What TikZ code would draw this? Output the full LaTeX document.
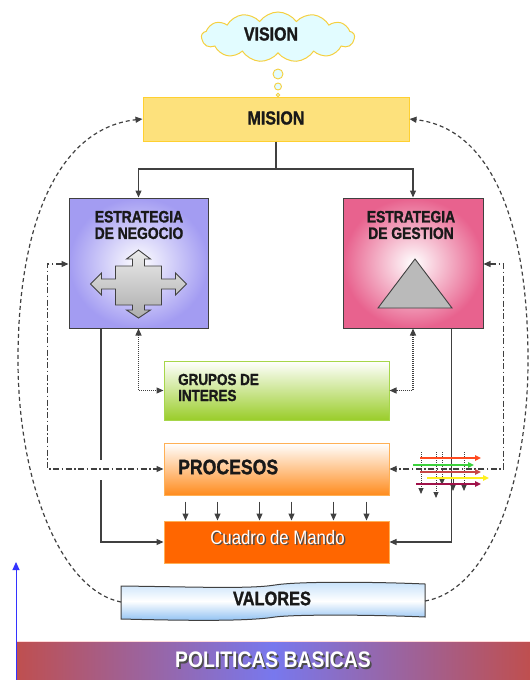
\documentclass[tikz,border=0pt]{standalone}
\usepackage{fontspec}
\newfontfamily\condfont[FakeStretch=0.86]{Liberation Sans}
\newfontfamily\heavyfont[FakeStretch=0.84,FakeBold=1.2]{Liberation Sans}
\usetikzlibrary{arrows.meta,shapes.symbols}

\definecolor{linegray}{HTML}{404040}
\definecolor{cloudfill}{HTML}{E2FCFF}
\definecolor{cloudedge}{HTML}{F5D040}
\definecolor{misionfill}{HTML}{FDE17C}
\definecolor{misionedge}{HTML}{FFD030}
\definecolor{negedge}{HTML}{A39CF2}
\definecolor{gesedge}{HTML}{E8628E}
\definecolor{grupgreen}{HTML}{9ACD2A}
\definecolor{grupedge}{HTML}{A6D64A}
\definecolor{procorange}{HTML}{FF8C1E}
\definecolor{procedge}{HTML}{FFB055}
\definecolor{cuadrofill}{HTML}{FF6600}
\definecolor{valtop}{HTML}{C4E0FA}
\definecolor{valbot}{HTML}{8EC0F2}
\definecolor{polred}{HTML}{BF4F4F}
\definecolor{polblue}{HTML}{7878EE}
\definecolor{arrred}{HTML}{FF4A20}
\definecolor{arrgreen}{HTML}{3CD23C}
\definecolor{arrbrown}{HTML}{C84646}
\definecolor{arryellow}{HTML}{FFF020}
\definecolor{arrmaroon}{HTML}{A0124A}

% white text with a dark drop shadow, set as one box
\newcommand{\shadowtext}[1]{\makebox[0pt][l]{\hspace{1.6pt}\raisebox{-1.6pt}{\color{black!70}#1}}{\color{white}#1}}

\begin{document}
\begin{tikzpicture}[x=1pt,y=-1pt,
  >={Triangle[length=7pt,width=6pt]},
  conn/.style={draw=linegray,line width=1.2pt},
  dotconn/.style={draw=linegray,line width=1.2pt,dash pattern=on 1pt off 1pt},
  dashdotconn/.style={draw=linegray,line width=1.2pt,dash pattern=on 6pt off 2.5pt on 1.5pt off 2.5pt},
  dashconn/.style={draw=linegray,line width=1.2pt,dash pattern=on 4pt off 3pt},
  box/.style={rectangle,inner sep=0pt,line width=1pt},
  lbl/.style={font=\heavyfont\bfseries\fontsize{#1}{#1}\selectfont,text=black!90,inner sep=0pt},
  lbl/.default=19,
  wlbl/.style={font=\condfont\fontsize{#1}{#1}\selectfont,inner sep=0pt},
]
\useasboundingbox (0,0) rectangle (530,680);

% ---- vision cloud and thought bubbles
\node[cloud,cloud puffs=13,cloud puff arc=110,aspect=3,draw=cloudedge,line width=1pt,
      fill=cloudfill,minimum width=153pt,minimum height=50pt,inner sep=0pt] (vision) at (278,37) {};
\node[lbl] (visiontxt) at (271,34) {VISION};
\node[circle,draw=cloudedge,fill=cloudfill,line width=0.9pt,minimum size=10pt,inner sep=0pt] (b1) at (278,74) {};
\node[circle,draw=cloudedge,fill=cloudfill,line width=0.9pt,minimum size=7pt,inner sep=0pt] (b2) at (278,86.5) {};
\node[circle,draw=cloudedge,fill=cloudfill,line width=0.8pt,minimum size=3.5pt,inner sep=0pt] (b3) at (278,95) {};

% ---- mision
\node[box,draw=misionedge,fill=misionfill,minimum width=266pt,minimum height=44pt] (mision) at (276,119) {};
\node[lbl] (misiontxt) at (276,118) {MISION};

% ---- estrategia boxes
\node[box,draw=linegray,inner color=white,outer color=negedge,minimum width=139pt,minimum height=130pt] (negocio) at (138.5,263) {};
\node[lbl=16.5,align=center] (negociotxt) at (139,225) {\fontsize{16.5}{22}\selectfont ESTRATEGIA\\DE NEGOCIO};
\node[box,draw=linegray,inner color=white,outer color=gesedge,minimum width=140pt,minimum height=130pt] (gestion) at (413,263) {};
\node[lbl=16.5,align=center] (gestiontxt) at (411,225) {\fontsize{16.5}{22}\selectfont ESTRATEGIA\\DE GESTION};

% four-way arrow symbol
\begin{scope}[shift={(138.5,284)}]
\draw[draw=linegray,line width=0.9pt,top color=black!8,bottom color=black!32]
  (0,-34) -- (12,-25) -- (6,-25) -- (6,-18) -- (23,-18) -- (23,-5) -- (37,-5) -- (37,-11) -- (48,0)
  -- (37,11) -- (37,5) -- (23,5) -- (23,21) -- (6,21) -- (6,26) -- (12,26) -- (0,34)
  -- (-12,26) -- (-6,26) -- (-6,21) -- (-23,21) -- (-23,5) -- (-37,5) -- (-37,11) -- (-48,0)
  -- (-37,-11) -- (-37,-5) -- (-23,-5) -- (-23,-18) -- (-6,-18) -- (-6,-25) -- (-12,-25) -- cycle;
\end{scope}
% triangle symbol
\draw[draw=linegray,line width=0.9pt,fill=black!27] (415,259) -- (452,308) -- (378,308) -- cycle;

% ---- grupos, procesos, cuadro
\node[box,draw=grupedge,top color=white,bottom color=grupgreen,minimum width=225pt,minimum height=59pt] (grupos) at (276.5,390.5) {};
\node[lbl=16,align=left,anchor=west] (grupostxt) at (178,387.5) {\fontsize{16}{19}\selectfont GRUPOS DE\\INTERES};
\node[box,draw=procedge,top color=white,bottom color=procorange,minimum width=225pt,minimum height=52pt] (procesos) at (276.5,469) {};
\node[lbl=21,anchor=west] (procesostxt) at (178,467) {PROCESOS};
\node[box,draw=procedge,fill=cuadrofill,minimum width=225pt,minimum height=42pt] (cuadro) at (276.5,542) {};
\node[wlbl=19.5] (cuadrotxt) at (277.5,538) {\shadowtext{Cuadro de Mando}};

% ---- valores banner
\draw[draw=linegray,line width=1pt,top color=valtop,bottom color=valbot,middle color=white]
  (121,586) .. controls (200,587) and (250,589) .. (275,585)
  .. controls (300,581) and (380,582) .. (425,584) -- (425,617)
  .. controls (380,615) and (300,614) .. (275,617)
  .. controls (250,621) and (200,621) .. (121,619) -- cycle;
\coordinate (valL) at (121,602);
\coordinate (valR) at (425,601);
\node[lbl=19.5] (valorestxt) at (272,598.5) {VALORES};

% ---- politicas basicas band
\fill[left color=polred,right color=polred,middle color=polblue] (16,641) rectangle (530,680);
\draw[white!85!red,line width=0.8pt] (16,641.5) -- (530,641.5);
\node[font=\condfont\bfseries\fontsize{22.5}{22.5}\selectfont,inner sep=0pt] (poltxt) at (273,660.5) {\shadowtext{POLITICAS BASICAS}};
\coordinate (axisbase) at (16,680);
\coordinate (axistop) at (16,562);
\draw[blue!80,line width=1pt,-{Triangle[length=8pt,width=7pt]}] (axisbase) -- (axistop);

% ---- connectors
\coordinate (split) at (276,169);
\draw[conn] (mision.south) -- (split);
\draw[conn,->] (split) -| (negocio.north);
\draw[conn,->] (split) -| (gestion.north);

% solid lines into cuadro de mando (left one jumps the dash-dot line)
\coordinate (jumpA) at (101,460);
\coordinate (jumpB) at (101,480);
\draw[conn] ([xshift=-37.5pt]negocio.south) -- (jumpA);
\draw[conn,->] (jumpB) |- (cuadro.west);
\draw[conn,->] ([xshift=-32pt]gestion.south east) |- (cuadro.east);

% dotted links with grupos de interes
\draw[dotconn,<->] (negocio.south) |- (grupos.west);
\draw[dotconn,<->] (gestion.south) |- (grupos.east);

% dash-dot feedback from procesos
\draw[dashdotconn,<->] ([yshift=-1pt]negocio.west) -- ++(-21,0) |- (procesos.west);
\draw[dashdotconn,<->] ([yshift=-1pt]gestion.east) -- ++(20,0) |- (procesos.east);

% dashed loops from valores to mision
\draw[dashconn,->] (valL) .. controls (60,590) and (18,480) .. (18,360)
  .. controls (18,220) and (60,128) .. (mision.west);
\draw[dashconn,->] (valR) .. controls (490,590) and (528,480) .. (528,360)
  .. controls (528,220) and (490,128) .. (mision.east);

% procesos feed cuadro de mando
\foreach \dx in {22,54,96,128,170,203}
  \draw[conn,line width=1pt,->] ([xshift=\dx pt,yshift=-6pt]procesos.south west) -- ([xshift=\dx pt]cuadro.north west);

% ---- bundle of coloured flows beside procesos
\foreach \px/\py in {421/494,436/498,442/485,464/491}
  \draw[draw=linegray,line width=0.8pt,dash pattern=on 1pt off 1pt,-{Triangle[length=6pt,width=5pt]}] (\px,452) -- (\px,\py);
\draw[linegray,line width=0.8pt,-{Triangle[length=6pt,width=5pt]}] (453,478) -- (453,491);
\begin{scope}[line width=1.8pt,-{Triangle[length=6pt,width=5.5pt]}]
\draw[arrred] (420,458) -- (481,458);
\draw[arrgreen] (413,465) -- (474,465);
\draw[arrbrown] (420,472) -- (481,472);
\draw[arryellow] (427,478) -- (489,478);
\draw[arrmaroon] (416,484) -- (481,484);
\end{scope}
\end{tikzpicture}
\end{document}
